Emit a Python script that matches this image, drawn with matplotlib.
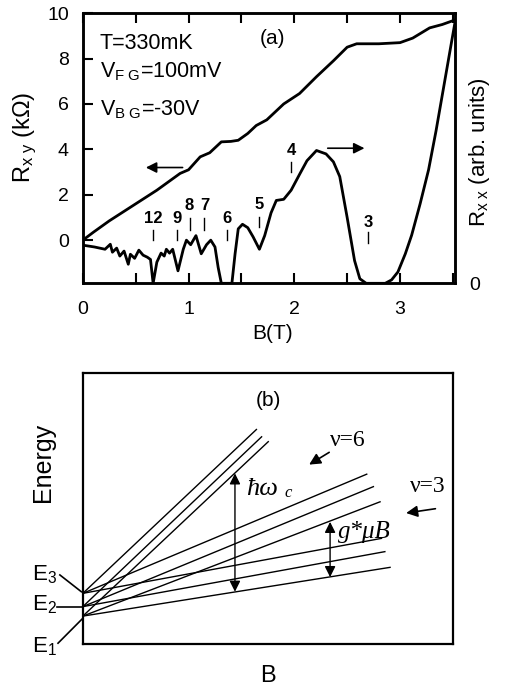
import matplotlib
matplotlib.use('Agg')
import matplotlib.pyplot as plt
from matplotlib.ticker import MultipleLocator

plt.rcParams['font.family'] = ['Liberation Sans', 'DejaVu Sans']
plt.rcParams['mathtext.fontset'] = 'custom'
plt.rcParams['mathtext.rm'] = 'Liberation Sans'
plt.rcParams['mathtext.it'] = 'Liberation Sans:italic'
plt.rcParams['mathtext.default'] = 'rm'

# ---- panel (a) data ----
b_xy = [0.00, 0.10, 0.25, 0.48, 0.70, 0.92, 1.00, 1.11, 1.20, 1.31, 1.40, 1.47,
        1.56, 1.64, 1.74, 1.82, 1.90, 2.05, 2.21, 2.37, 2.50, 2.59, 2.80, 3.00,
        3.12, 3.28, 3.40, 3.52]
r_xy = [0.00, 0.35, 0.85, 1.54, 2.20, 2.94, 3.10, 3.67, 3.85, 4.33, 4.35, 4.40,
        4.70, 5.05, 5.30, 5.65, 6.00, 6.46, 7.20, 7.90, 8.50, 8.65, 8.65, 8.70,
        8.90, 9.35, 9.50, 9.70]

b_xx = [0.00, 0.11, 0.21, 0.26, 0.28, 0.32, 0.35, 0.39, 0.43, 0.45, 0.49, 0.53,
        0.57, 0.61, 0.64, 0.665, 0.70, 0.74, 0.77, 0.79, 0.82, 0.85, 0.90, 0.95,
        0.98, 1.02, 1.07, 1.12, 1.17, 1.21, 1.25, 1.28, 1.31, 1.41, 1.44, 1.47,
        1.51, 1.56, 1.61, 1.67, 1.72, 1.78, 1.83, 1.90, 1.97, 2.05, 2.12, 2.21,
        2.30, 2.37, 2.43, 2.50, 2.57, 2.62, 2.68, 2.86, 2.92, 2.98, 3.05, 3.11,
        3.19, 3.27, 3.34, 3.40, 3.46, 3.52]
r_xx = [1.68, 1.60, 1.50, 1.72, 1.37, 1.55, 1.20, 1.42, 0.84, 1.28, 1.10, 1.46,
        1.24, 1.15, 1.05, 0.00, 0.93, 1.33, 1.20, 1.50, 1.33, 1.50, 0.55, 1.50,
        1.90, 1.70, 2.10, 1.30, 1.70, 1.90, 1.60, 0.70, 0.00, 0.00, 1.30, 2.40,
        2.60, 2.45, 2.05, 1.50, 2.10, 3.10, 3.65, 3.70, 4.10, 4.80, 5.40, 5.85,
        5.70, 5.35, 4.70, 2.90, 1.00, 0.20, 0.00, 0.00, 0.15, 0.50, 1.30, 2.12,
        3.50, 5.00, 6.70, 8.30, 9.90, 11.50]

# filling factor marks: label, B position, label height, mark bottom, mark top
nu_lab = ['12', '9', '8', '7', '6', '5', '4', '3']
nu_b = [0.665, 0.89, 1.01, 1.15, 1.36, 1.67, 1.97, 2.70]
nu_y = [0.97, 0.97, 1.54, 1.54, 0.97, 1.59, 3.96, 0.79]
nu_lo = [0.00, 0.00, 0.44, 0.44, 0.00, 0.57, 3.00, -0.13]
nu_hi = [0.44, 0.44, 0.97, 0.97, 0.44, 1.00, 3.44, 0.35]

# ---- panel (b): level fan, start energy and end point (axes units) ----
e_start = [0.187, 0.138, 0.103]  # E3, E2, E1
steep_end = [(0.469, 0.792), (0.483, 0.765), (0.501, 0.747)]
medium_end = [(0.767, 0.627), (0.785, 0.581), (0.803, 0.525)]
shallow_end = [(0.807, 0.390), (0.816, 0.341), (0.830, 0.283)]

fig = plt.figure(figsize=(5.05, 6.91), dpi=100)

# ===================== (a) =====================
ax = fig.add_axes([0.164, 0.590, 0.737, 0.391])
ax.plot(b_xy, r_xy, color='black', lw=2.0, solid_joinstyle='round')
ax.set_xlim(0, 3.52)
ax.set_ylim(-1.9, 10)
ax.xaxis.set_major_locator(MultipleLocator(1))
ax.xaxis.set_minor_locator(MultipleLocator(0.5))
ax.set_yticks([0, 2, 4, 6, 8, 10])
ax.tick_params(which='both', direction='in', top=True, right=True,
               length=7, width=1.5, labelsize=14)
ax.tick_params(axis='x', pad=13)
ax.tick_params(axis='y', pad=10)
for s in ax.spines.values():
    s.set_linewidth(1.8)

ax2 = ax.twinx()
ax2.plot(b_xx, r_xx, color='black', lw=2.0, solid_joinstyle='round')
ax2.set_ylim(0, 11.9)
ax2.set_yticks([0])
ax2.tick_params(axis='y', length=0, pad=10, labelsize=14)
for s in ax2.spines.values():
    s.set_linewidth(1.8)

# axis titles placed in figure fractions
fig.text(0.539, 0.518, 'B(T)', fontsize=15, ha='center', va='center')
fig.text(0.050, 0.802, r'R$_{x\ y}$ (k$\Omega$)', fontsize=17, rotation=90,
         ha='center', va='center')
fig.text(0.950, 0.780, r'R$_{x\ x}$ (arb. units)', fontsize=16, rotation=90,
         ha='center', va='center')

for lab, b, y, lo, hi in zip(nu_lab, nu_b, nu_y, nu_lo, nu_hi):
    ax.text(b, y, lab, ha='center', va='center', fontsize=12, fontweight='bold')
    ax.plot([b, b], [lo, hi], color='black', lw=1.0)

ax.annotate('', xy=(0.57, 3.2), xytext=(0.97, 3.2),
            arrowprops=dict(arrowstyle='-|>', color='black', lw=1.2,
                            mutation_scale=16))
ax.annotate('', xy=(2.69, 4.05), xytext=(2.29, 4.05),
            arrowprops=dict(arrowstyle='-|>', color='black', lw=1.2,
                            mutation_scale=16))

ax.text(0.16, 8.68, 'T=330mK', fontsize=15.5, va='center')
ax.text(0.16, 7.40, r'V$_{F\ G}$=100mV', fontsize=15.5, va='center')
ax.text(0.16, 5.75, r'V$_{B\ G}$=-30V', fontsize=15.5, va='center')
ax.text(1.79, 8.9, '(a)', fontsize=15, ha='center', va='center')

# ===================== (b) =====================
bx = fig.add_axes([0.164, 0.068, 0.733, 0.392])
bx.set_xlim(0, 1)
bx.set_ylim(0, 1)
bx.set_xticks([])
bx.set_yticks([])
for s in bx.spines.values():
    s.set_linewidth(1.6)

for group in (steep_end, medium_end, shallow_end):
    for y0, (x1, y1) in zip(e_start, group):
        bx.plot([0, x1], [y0, y1], color='black', lw=1.0)

fig.text(0.531, 0.022, 'B', fontsize=17, ha='center', va='center')
fig.text(0.085, 0.331, 'Energy', fontsize=18, rotation=90,
         ha='center', va='center')

# subband labels with pointers outside the frame
e_lab = [r'E$_3$', r'E$_2$', r'E$_1$']
e_lab_y = [0.255, 0.145, -0.010]
ptr_from = [(-0.062, 0.255), (-0.071, 0.138), (-0.067, 0.003)]
ptr_to = [(-0.004, 0.193), (0.0, 0.138), (0.0, 0.095)]
for lab, ly, (xa, ya), (xb, yb) in zip(e_lab, e_lab_y, ptr_from, ptr_to):
    bx.text(-0.103, ly, lab, fontsize=16, ha='center', va='center')
    bx.plot([xa, xb], [ya, yb], color='black', lw=1.2, clip_on=False)

bx.text(0.501, 0.900, '(b)', fontsize=15, ha='center', va='center')

bx.text(0.717, 0.753, 'ν=6', fontsize=17, ha='center', va='center',
        family='Liberation Serif')
bx.annotate('', xy=(0.605, 0.657), xytext=(0.672, 0.713),
            arrowprops=dict(arrowstyle='-|>', color='black', lw=1.2,
                            mutation_scale=17))
bx.text(0.933, 0.580, 'ν=3', fontsize=17, ha='center', va='center',
        family='Liberation Serif')
bx.annotate('', xy=(0.866, 0.482), xytext=(0.960, 0.501),
            arrowprops=dict(arrowstyle='-|>', color='black', lw=1.2,
                            mutation_scale=17))

bx.annotate('', xy=(0.411, 0.630), xytext=(0.411, 0.193),
            arrowprops=dict(arrowstyle='<|-|>', color='black', lw=1.0,
                            mutation_scale=16, shrinkA=0, shrinkB=0))
bx.annotate('', xy=(0.668, 0.451), xytext=(0.668, 0.247),
            arrowprops=dict(arrowstyle='<|-|>', color='black', lw=1.0,
                            mutation_scale=16, shrinkA=0, shrinkB=0))

bx.text(0.442, 0.574, 'ħω', fontsize=19, va='center',
        family='Liberation Serif', style='italic')
bx.text(0.545, 0.556, 'c', fontsize=12, va='center',
        family='Liberation Serif', style='italic')
bx.text(0.690, 0.414, 'g*μB', fontsize=18, va='center',
        family='Liberation Serif', style='italic')

fig.savefig('out.png', dpi=100)
